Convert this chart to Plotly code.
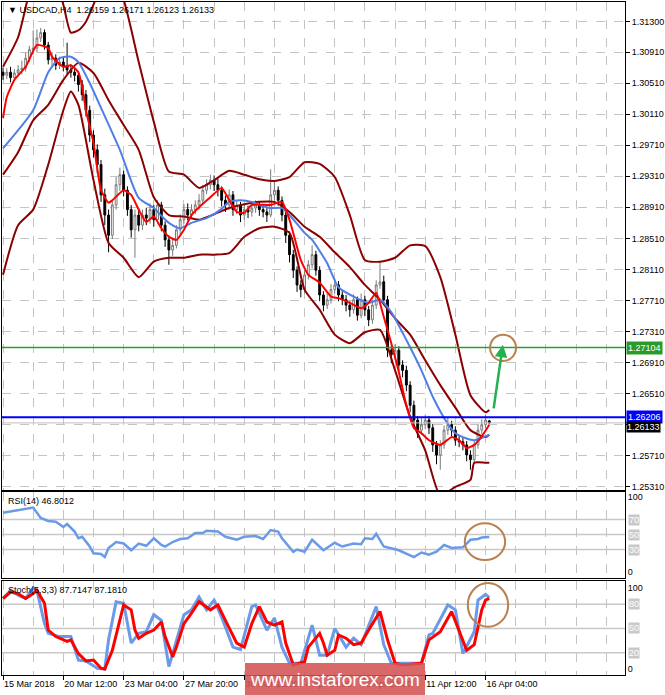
import plotly.graph_objects as go

# ---------------- data (USDCAD H4) ----------------
bars = list(range(130))
opens = [1.3065,1.3061,1.3065,1.3058,1.3064,1.3068,1.3070,1.3083,1.3094,1.3096,
 1.3109,1.3116,1.3100,1.3081,1.3083,1.3074,1.3078,1.3073,1.3068,1.3065,
 1.3061,1.3049,1.3036,1.3016,1.2984,1.2965,1.2946,1.2907,1.2881,1.2855,
 1.2894,1.2920,1.2933,1.2913,1.2888,1.2862,1.2881,1.2868,1.2881,1.2877,
 1.2888,1.2875,1.2894,1.2868,1.2849,1.2836,1.2842,1.2862,1.2875,1.2888,
 1.2881,1.2888,1.2894,1.2900,1.2913,1.2920,1.2926,1.2920,1.2913,1.2900,
 1.2894,1.2907,1.2888,1.2894,1.2881,1.2888,1.2885,1.2890,1.2894,1.2888,
 1.2885,1.2881,1.2907,1.2913,1.2900,1.2881,1.2855,1.2830,1.2810,1.2791,
 1.2785,1.2804,1.2817,1.2830,1.2810,1.2778,1.2765,1.2772,1.2785,1.2791,
 1.2778,1.2772,1.2765,1.2759,1.2772,1.2752,1.2772,1.2759,1.2746,1.2765,
 1.2791,1.2795,1.2772,1.2707,1.2701,1.2707,1.2688,1.2681,1.2662,1.2636,
 1.2617,1.2604,1.2611,1.2617,1.2607,1.2585,1.2572,1.2585,1.2604,1.2611,
 1.2604,1.2591,1.2589,1.2585,1.2572,1.2566,1.2585,1.2604,1.2611,1.26159]
highs = [1.3071,1.3070,1.3072,1.3069,1.3074,1.3080,1.3090,1.3099,1.3119,1.3120,
 1.3122,1.3120,1.3104,1.3091,1.3088,1.3085,1.3084,1.3103,1.3075,1.3071,
 1.3066,1.3055,1.3042,1.3022,1.2990,1.2972,1.2952,1.2915,1.2888,1.2900,
 1.2930,1.2942,1.2938,1.2918,1.2894,1.2888,1.2890,1.2888,1.2890,1.2896,
 1.2894,1.2900,1.2898,1.2873,1.2855,1.2850,1.2868,1.2882,1.2895,1.2896,
 1.2895,1.2900,1.2908,1.2920,1.2927,1.2933,1.2932,1.2928,1.2918,1.2906,
 1.2914,1.2912,1.2900,1.2898,1.2895,1.2893,1.2896,1.2900,1.2899,1.2894,
 1.2890,1.2940,1.2925,1.2918,1.2905,1.2886,1.2860,1.2836,1.2815,1.2797,
 1.2810,1.2823,1.2842,1.2835,1.2815,1.2783,1.2780,1.2792,1.2799,1.2796,
 1.2784,1.2778,1.2770,1.2779,1.2776,1.2780,1.2777,1.2764,1.2772,1.2797,
 1.2821,1.2803,1.2777,1.2713,1.2715,1.2712,1.2694,1.2687,1.2667,1.2642,
 1.2622,1.2619,1.2624,1.2622,1.2612,1.2590,1.2591,1.2610,1.2620,1.2616,
 1.2609,1.2597,1.2594,1.2590,1.2578,1.2591,1.2611,1.2618,1.2624,1.26171]
lows = [1.3055,1.3056,1.3052,1.3054,1.3060,1.3062,1.3066,1.3078,1.3088,1.3090,
 1.3104,1.3094,1.3075,1.3072,1.3068,1.3069,1.3066,1.3062,1.3058,1.3053,
 1.3040,1.3028,1.3008,1.2975,1.2955,1.2935,1.2898,1.2868,1.2833,1.2850,
 1.2888,1.2912,1.2905,1.2880,1.2852,1.2826,1.2860,1.2862,1.2868,1.2870,
 1.2866,1.2870,1.2860,1.2840,1.2817,1.2828,1.2838,1.2856,1.2870,1.2874,
 1.2876,1.2882,1.2888,1.2895,1.2908,1.2914,1.2912,1.2905,1.2892,1.2885,
 1.2888,1.2880,1.2882,1.2872,1.2875,1.2877,1.2879,1.2884,1.2880,1.2878,
 1.2872,1.2878,1.2900,1.2893,1.2873,1.2845,1.2820,1.2800,1.2782,1.2775,
 1.2780,1.2798,1.2812,1.2803,1.2770,1.2757,1.2760,1.2767,1.2780,1.2770,
 1.2765,1.2757,1.2750,1.2754,1.2745,1.2748,1.2751,1.2738,1.2741,1.2760,
 1.2786,1.2765,1.2698,1.2690,1.2695,1.2680,1.2672,1.2654,1.2627,1.2609,
 1.2594,1.2598,1.2605,1.2599,1.2576,1.2560,1.2553,1.2580,1.2598,1.2596,
 1.2584,1.2582,1.2578,1.2564,1.2553,1.2561,1.2580,1.2599,1.2606,1.26123]
closes = [1.3061,1.3065,1.3058,1.3064,1.3068,1.3070,1.3083,1.3094,1.3096,1.3109,
 1.3116,1.3100,1.3081,1.3083,1.3074,1.3078,1.3073,1.3068,1.3065,1.3061,
 1.3049,1.3036,1.3016,1.2984,1.2965,1.2946,1.2907,1.2881,1.2855,1.2894,
 1.2920,1.2933,1.2913,1.2888,1.2862,1.2881,1.2868,1.2881,1.2877,1.2888,
 1.2875,1.2894,1.2868,1.2849,1.2836,1.2842,1.2862,1.2875,1.2888,1.2881,
 1.2888,1.2894,1.2900,1.2913,1.2920,1.2926,1.2920,1.2913,1.2900,1.2894,
 1.2907,1.2888,1.2894,1.2881,1.2888,1.2885,1.2890,1.2894,1.2888,1.2885,
 1.2881,1.2907,1.2913,1.2900,1.2881,1.2855,1.2830,1.2810,1.2791,1.2785,
 1.2804,1.2817,1.2830,1.2810,1.2778,1.2765,1.2772,1.2785,1.2791,1.2778,
 1.2772,1.2765,1.2759,1.2772,1.2752,1.2772,1.2759,1.2746,1.2765,1.2791,
 1.2795,1.2772,1.2707,1.2701,1.2707,1.2688,1.2681,1.2662,1.2636,1.2617,
 1.2604,1.2611,1.2617,1.2607,1.2585,1.2572,1.2585,1.2604,1.2611,1.2604,
 1.2591,1.2589,1.2585,1.2572,1.2566,1.2585,1.2604,1.2611,1.2617,1.26133]

# Bollinger bands
bb_upper_x = [0,4,8,12,16,18,20,22,24,28,32,36,40,44,48,52,56,60,64,68,72,76,80,84,88,92,96,100,104,108,112,116,120,124,128,129]
bb_upper = [1.3072,1.3110,1.3184,1.3210,1.3152,1.3116,1.3119,1.3130,1.3152,1.3197,1.3158,1.3078,1.3001,1.2937,1.2933,1.2916,1.2926,1.2938,1.2933,1.2927,1.2925,1.2930,1.2949,1.2947,1.2930,1.2881,1.2823,1.2821,1.2826,1.2842,1.2841,1.2801,1.2727,1.2649,1.2627,1.2630]
bb_mid_x = [0,4,8,12,16,20,24,28,32,36,40,44,48,52,56,60,64,68,72,76,80,84,88,92,96,100,104,108,112,116,120,124,128,129]
bb_mid = [1.2933,1.2962,1.3003,1.3023,1.3055,1.3077,1.3064,1.3029,1.2997,1.2965,1.2904,1.2881,1.2879,1.2875,1.2882,1.2890,1.2895,1.2898,1.2898,1.2885,1.2866,1.2853,1.2833,1.2814,1.2791,1.2772,1.2748,1.2727,1.2694,1.2662,1.2633,1.2604,1.2595,1.2598]
bb_low_x = [0,4,8,12,16,18,20,24,28,32,36,40,44,48,52,56,60,64,68,72,76,80,84,88,92,96,100,104,108,112,116,120,124,125,128,129]
bb_low = [1.2804,1.2868,1.2888,1.2946,1.3016,1.3040,1.3023,1.2926,1.2845,1.2826,1.2801,1.2821,1.2826,1.2826,1.2830,1.2830,1.2832,1.2853,1.2864,1.2866,1.2858,1.2785,1.2759,1.2727,1.2716,1.2730,1.2733,1.2681,1.2621,1.2578,1.2520,1.2531,1.2540,1.2562,1.2562,1.2562]

# fast MA (red) and slow MA (blue)
red_x = [0,1,3,6,9,12,13,16,18,20,21,22,24,26,28,29,32,34,36,38,40,42,44,46,48,50,52,55,58,59,62,64,66,71,74,76,79,81,84,87,89,92,95,97,99,101,103,105,107,109,111,113,116,119,121,123,125,127,129]
red_ma = [1.3006,1.3033,1.3055,1.3072,1.3100,1.3096,1.3085,1.3072,1.3074,1.3065,1.3046,1.3016,1.2974,1.2913,1.2897,1.2900,1.2913,1.2907,1.2888,1.2872,1.2879,1.2864,1.2853,1.2849,1.2862,1.2881,1.2891,1.2904,1.2916,1.2909,1.2885,1.2884,1.2894,1.2894,1.2898,1.2875,1.2823,1.2804,1.2794,1.2776,1.2774,1.2768,1.2761,1.2768,1.2781,1.2750,1.2716,1.2679,1.2636,1.2607,1.2600,1.2591,1.2585,1.2595,1.2591,1.2581,1.2585,1.2596,1.2611]
blue_x = [0,8,12,15,18,20,23,26,31,36,40,42,44,47,50,54,58,60,63,66,68,71,74,76,80,82,86,89,93,97,100,103,107,111,114,118,120,122,125,127,129]
blue_ma = [1.2967,1.3016,1.3065,1.3083,1.3085,1.3078,1.3051,1.3019,1.2965,1.2903,1.2890,1.2880,1.2871,1.2864,1.2871,1.2877,1.2889,1.2898,1.2900,1.2898,1.2894,1.2890,1.2890,1.2881,1.2858,1.2849,1.2819,1.2788,1.2776,1.2768,1.2772,1.2756,1.2720,1.2681,1.2647,1.2612,1.2600,1.2595,1.2591,1.2594,1.2598]

# RSI(14)
rsi_x = [0,4,8,10,12,14,16,17,19,20,21,23,24,26,27,28,30,32,34,36,38,40,42,43,45,47,49,51,53,54,57,59,61,62,64,67,69,71,73,74,77,78,80,82,85,88,90,93,95,96,98,99,101,103,105,109,111,113,115,117,119,122,124,126,127,129]
rsi = [79,82,86,72,68,67,60,64,54,45,47,34,25,24,20,32,40,38,29,38,35,45,36,34,40,44,45,52,52,55,54,47,45,43,47,48,44,56,54,45,27,30,27,43,29,39,34,38,37,45,44,51,34,32,29,20,26,23,27,36,32,33,43,44,46,46.8]

# Stochastic(5,3,3)
stoch_k_x = [0,2,4,6,8,9,11,12,15,18,20,22,25,27,28,30,32,34,36,38,40,42,44,46,48,50,52,54,56,58,61,63,66,67,70,72,74,76,79,82,84,86,88,91,93,95,99,101,103,111,113,114,118,120,122,125,126,128,129]
stoch_k = [87,97,91,87,100,97,56,44,40,40,11,10,1,0,36,83,81,32,44,46,67,60,3,36,67,73,89,73,85,64,27,24,77,79,48,63,27,7,7,54,17,17,50,27,38,30,77,30,7,7,42,44,79,73,19,46,85,92,88]
stoch_d_x = [0,2,4,6,8,9,11,12,14,17,18,20,22,24,26,27,29,31,32,34,35,36,38,40,42,43,45,46,48,50,52,55,57,59,62,64,66,68,70,72,74,75,77,80,81,84,85,86,88,89,91,93,95,97,100,102,104,106,111,113,116,119,121,123,125,127,128,129]
stoch_d = [87,95,93,87,93,97,81,48,40,34,36,19,10,11,1,0,23,60,79,73,48,38,44,48,58,40,15,27,56,69,83,73,79,60,32,27,56,77,58,54,58,32,5,9,27,44,32,17,23,42,38,30,32,48,71,36,7,5,7,36,46,71,48,23,30,73,85,87]

price_ticks = [1.25310,1.25710,1.26110,1.26510,1.26910,1.27310,1.27710,1.28110,1.28510,1.28910,1.29310,1.29710,1.30110,1.30510,1.30910,1.31300]
price_tick_text = ["1.25310","1.25710","","1.26510","1.26910","1.27310","1.27710","1.28110","1.28510","1.28910","1.29310","1.29710","1.30110","1.30510","1.30910","1.31300"]
time_ticks = [0,16,32,48,64,80,96,112,128]
time_labels = ["15 Mar 2018","20 Mar 12:00","23 Mar 04:00","27 Mar 20:00","30 Mar 12:00","4 Apr 04:00","6 Apr 20:00","11 Apr 12:00","16 Apr 04:00"]
rsi_levels = [70,50,30]
stoch_levels = [80,50,20]
target_level = 1.27104
pivot_level = 1.26206
last_price = 1.26133

# ---------------- figure ----------------
FONT = "Liberation Sans"
GRID = "#c4c4c4"
MAROON = "#8b0000"

fig = go.Figure()
fig.add_trace(go.Candlestick(x=bars, open=opens, high=highs, low=lows, close=closes,
    increasing=dict(line=dict(color="#7a7a7a", width=1), fillcolor="#ffffff"),
    decreasing=dict(line=dict(color="#000000", width=1), fillcolor="#000000"),
    whiskerwidth=0, xaxis="x", yaxis="y", showlegend=False, hoverinfo="skip"))
for xs, ys in [(bb_upper_x, bb_upper), (bb_mid_x, bb_mid), (bb_low_x, bb_low)]:
    fig.add_trace(go.Scatter(x=xs, y=ys, mode="lines", line=dict(color=MAROON, width=2, shape="spline", smoothing=0.6),
                             xaxis="x", yaxis="y", showlegend=False, hoverinfo="skip"))
fig.add_trace(go.Scatter(x=blue_x, y=blue_ma, mode="lines", line=dict(color="#4f7fe6", width=2, shape="spline", smoothing=0.6),
                         xaxis="x", yaxis="y", showlegend=False, hoverinfo="skip"))
fig.add_trace(go.Scatter(x=red_x, y=red_ma, mode="lines", line=dict(color="#ff0000", width=2, shape="spline", smoothing=0.5),
                         xaxis="x", yaxis="y", showlegend=False, hoverinfo="skip"))
fig.add_trace(go.Scatter(x=rsi_x, y=rsi, mode="lines", line=dict(color="#6a9ae8", width=2.5),
                         xaxis="x2", yaxis="y2", showlegend=False, hoverinfo="skip"))
fig.add_trace(go.Scatter(x=stoch_k_x, y=stoch_k, mode="lines", line=dict(color="#6a9ae8", width=3),
                         xaxis="x3", yaxis="y3", showlegend=False, hoverinfo="skip"))
fig.add_trace(go.Scatter(x=stoch_d_x, y=stoch_d, mode="lines", line=dict(color="#ff0000", width=3),
                         xaxis="x3", yaxis="y3", showlegend=False, hoverinfo="skip"))

XR = [-0.27, 165.0]
def xax(**kw):
    d = dict(range=XR, showgrid=True, gridcolor=GRID, griddash="dash", gridwidth=1,
             tickvals=time_ticks, zeroline=False, showline=True, mirror=True, linecolor="#000000",
             minor=dict(dtick=8, tick0=0, showgrid=True, gridcolor=GRID, griddash="dash", ticks=""),
             fixedrange=True, automargin=False, tickangle=0)
    d.update(kw)
    return d

shapes = []
for lv in rsi_levels:
    shapes.append(dict(type="line", xref="x2 domain", yref="y2", x0=0, x1=1, y0=lv, y1=lv,
                       line=dict(color="#c8c8c8", width=1.5), layer="below"))
for lv in stoch_levels:
    shapes.append(dict(type="line", xref="x3 domain", yref="y3", x0=0, x1=1, y0=lv, y1=lv,
                       line=dict(color="#c8c8c8", width=1.5), layer="below"))
shapes.append(dict(type="line", xref="x domain", yref="y", x0=0, x1=1, y0=last_price, y1=last_price,
                   line=dict(color="#c0c0c0", width=1)))
shapes.append(dict(type="line", xref="x domain", yref="y", x0=0, x1=1, y0=target_level, y1=target_level,
                   line=dict(color="#2aa02a", width=1.5)))
shapes.append(dict(type="line", xref="x domain", yref="y", x0=0, x1=1, y0=pivot_level, y1=pivot_level,
                   line=dict(color="#0000ff", width=2)))
CIRC = "#b9814f"
shapes.append(dict(type="circle", xref="x", yref="y", x0=129.2, x1=136.1, y0=1.2693, y1=1.2727,
                   line=dict(color=CIRC, width=2)))
shapes.append(dict(type="circle", xref="x2", yref="y2", x0=122.5, x1=133.2, y0=16, y1=65,
                   line=dict(color=CIRC, width=2)))
shapes.append(dict(type="circle", xref="x3", yref="y3", x0=123.3, x1=134.0, y0=52, y1=106,
                   line=dict(color=CIRC, width=2)))
shapes.append(dict(type="rect", xref="paper", yref="paper", x0=0.390, x1=0.679, y0=-0.0297, y1=0.0178,
                   fillcolor="rgba(212,84,84,0.88)", line=dict(width=0), layer="above"))

ann = []
ann.append(dict(xref="paper", yref="paper", x=0.006, y=0.999, xanchor="left", yanchor="top", showarrow=False,
                text="▼ USDCAD,H4  1.26159 1.26171 1.26123 1.26133", font=dict(family=FONT, size=9, color="#000000")))
ann.append(dict(xref="paper", yref="paper", x=0.006, y=0.2690, xanchor="left", yanchor="top", showarrow=False,
                text="RSI(14) 46.8012", font=dict(family=FONT, size=9, color="#000000")))
ann.append(dict(xref="paper", yref="paper", x=0.006, y=0.1365, xanchor="left", yanchor="top", showarrow=False,
                text="Stoch(5,3,3) 87.7147 87.1810", font=dict(family=FONT, size=9, color="#000000")))
for lv, col in [(target_level, "#2a9a2a"), (pivot_level, "#0000ff")]:
    ann.append(dict(xref="paper", yref="y", x=1.0, y=lv, xanchor="left", yanchor="middle", xshift=1, showarrow=False,
                    text=f"{lv:.5f}", bgcolor=col, borderpad=1, font=dict(family=FONT, size=9, color="#ffffff")))
ann.append(dict(xref="paper", yref="y", x=1.0, y=last_price, xanchor="left", yanchor="top", xshift=1, yshift=2, showarrow=False,
                text=f"{last_price:.5f}", bgcolor="#000000", borderpad=0, font=dict(family=FONT, size=9, color="#ffffff")))
for lv in rsi_levels:
    ann.append(dict(xref="paper", yref="y2", x=1.0, y=lv, xanchor="left", yanchor="middle", xshift=3, showarrow=False,
                    text=str(lv), bgcolor="#c8c8c8", borderpad=0, font=dict(family=FONT, size=9, color="#ffffff")))
for lv in stoch_levels:
    ann.append(dict(xref="paper", yref="y3", x=1.0, y=lv, xanchor="left", yanchor="middle", xshift=3, showarrow=False,
                    text=str(lv), bgcolor="#c8c8c8", borderpad=0, font=dict(family=FONT, size=9, color="#ffffff")))
ann.append(dict(xref="x", yref="y", axref="x", ayref="y", x=132.6, y=1.2714, ax=130.1, ay=1.2630,
                showarrow=True, arrowhead=2, arrowsize=1, arrowwidth=2.5, arrowcolor="#22b14c", text=""))
ann.append(dict(xref="paper", yref="paper", x=0.5345, y=-0.006, xanchor="center", yanchor="middle", showarrow=False,
                text="www.instaforex.com", font=dict(family=FONT, size=19, color="#ffffff")))

fig.update_layout(
    width=665, height=695, autosize=False,
    margin=dict(l=2, r=40, t=2, b=20, autoexpand=False),
    paper_bgcolor="#ffffff", plot_bgcolor="#ffffff",
    font=dict(family=FONT, size=9, color="#000000"),
    showlegend=False,
    xaxis=xax(anchor="y", showticklabels=False, ticks="", rangeslider=dict(visible=False)),
    xaxis2=xax(anchor="y2", showticklabels=False, ticks=""),
    xaxis3=xax(anchor="y3", ticktext=time_labels, ticks="outside", ticklen=4, tickcolor="#000000",
               ticklabelposition="outside right", tickfont=dict(family=FONT, size=9)),
    yaxis=dict(domain=[0.2749, 1.0], range=[1.25269, 1.31554], side="right", anchor="x",
               tickvals=price_ticks, ticktext=price_tick_text, ticks="outside", ticklen=4, tickcolor="#000000",
               showgrid=True, gridcolor=GRID, griddash="dash", zeroline=False, automargin=False,
               showline=True, mirror=True, linecolor="#000000", fixedrange=True),
    yaxis2=dict(domain=[0.1441, 0.2719], range=[-8, 106.7], side="right", anchor="x2",
                tickvals=[0, 100], ticktext=["0", "100"], ticks="", showgrid=False, zeroline=False, automargin=False,
                showline=True, mirror=True, linecolor="#000000", fixedrange=True),
    yaxis3=dict(domain=[0.0, 0.1397], range=[-7.4, 108.6], side="right", anchor="x3",
                tickvals=[0, 100], ticktext=["0", "100"], ticks="", showgrid=False, zeroline=False, automargin=False,
                showline=True, mirror=True, linecolor="#000000", fixedrange=True),
    shapes=shapes, annotations=ann,
)

fig.write_html("out.html", config={"displayModeBar": False, "staticPlot": True},
               post_script="document.body.style.margin='0px';document.body.style.overflow='hidden';")
